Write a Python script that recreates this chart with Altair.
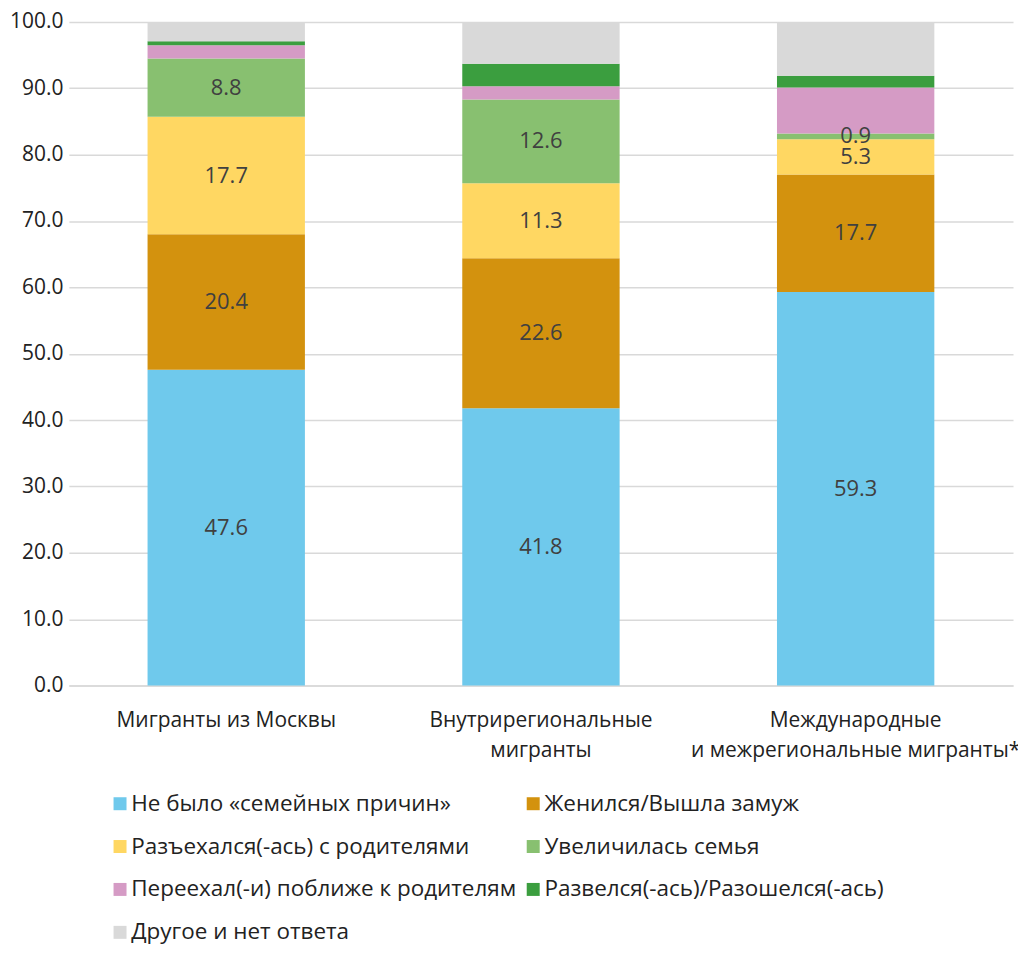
import altair as alt
import pandas as pd

groups = ["Мигранты из Москвы", "Внутрирегиональные\nмигранты", "Международные\nи межрегиональные мигранты*"]
series = [
    "Не было «семейных причин»",
    "Женился/Вышла замуж",
    "Разъехался(-ась) с родителями",
    "Увеличилась семья",
    "Переехал(-и) поближе к родителям",
    "Развелся(-ась)/Разошелся(-ась)",
    "Другое и нет ответа",
]
colors = ["#6FC9EC", "#D3920E", "#FFD762", "#88C070", "#D59BC5", "#3B9E3F", "#D9D9D9"]

v_no_reason = [47.6, 41.8, 59.3]
v_married = [20.4, 22.6, 17.7]
v_moved_out = [17.7, 11.3, 5.3]
v_family_grew = [8.8, 12.6, 0.9]
v_closer_parents = [2.0, 2.0, 6.9]
v_divorced = [0.6, 3.4, 1.8]
v_other = [2.9, 6.3, 8.1]
labelled = [True, True, True, True, False, False, False]

all_vals = [v_no_reason, v_married, v_moved_out, v_family_grew, v_closer_parents, v_divorced, v_other]

rows = []
for si, (s, vals) in enumerate(zip(series, all_vals)):
    for gi, g in enumerate(groups):
        rows.append({"group": g, "series": s, "order": si, "value": vals[gi], "show": labelled[si]})
df = pd.DataFrame(rows)

FONT = "Open Sans"

base = alt.Chart(df).transform_stack(
    stack="value", as_=["y0", "y1"], groupby=["group"], sort=[alt.SortField("order", order="ascending")]
).transform_calculate(mid="(datum.y0 + datum.y1) / 2")

x_enc = alt.X(
    "group:N",
    sort=groups,
    title=None,
    scale=alt.Scale(paddingInner=0.5, paddingOuter=0.25),
    axis=alt.Axis(
        labelAngle=0,
        labelExpr="split(datum.label, '\\n')",
        labelFontSize=21,
        labelFont=FONT,
        labelColor="#222222",
        labelLineHeight=30,
        labelPadding=24,
        ticks=False,
        domainColor="#D9D9D9",
        domainWidth=1.5,
        labelLimit=400,
    ),
)

bars = base.mark_bar().encode(
    x=x_enc,
    y=alt.Y(
        "y0:Q",
        title=None,
        scale=alt.Scale(domain=[0, 100], nice=False),
        axis=alt.Axis(
            values=list(range(0, 101, 10)),
            format=".1f",
            labelFontSize=21,
            labelFont=FONT,
            labelColor="#222222",
            labelPadding=6,
            ticks=False,
            domain=False,
            gridColor="#D9D9D9",
            gridWidth=1.5,
        ),
    ),
    y2="y1:Q",
    color=alt.Color(
        "series:N",
        sort=series,
        scale=alt.Scale(domain=series, range=colors),
        legend=alt.Legend(
            title=None,
            orient="none",
            legendX=40,
            legendY=772,
            columns=2,
            direction="horizontal",
            columnPadding=5,
            rowPadding=20,
            symbolType="square",
            symbolSize=169,
            symbolStrokeWidth=0,
            labelFontSize=22.5,
            labelFont=FONT,
            labelColor="#222222",
            labelLimit=500,
            labelOffset=0,
        ),
    ),
)

text = base.transform_filter("datum.show").mark_text(
    fontSize=22, font=FONT, color="#404040", baseline="middle"
).encode(
    x=alt.X("group:N", sort=groups),
    y=alt.Y("mid:Q"),
    text=alt.Text("value:Q", format=".1f"),
)

chart = (bars + text).properties(
    width=946,
    height=665,
    autosize=alt.AutoSizeParams(type="none"),
    padding={"left": 61, "top": 13, "right": 5, "bottom": 258},
).configure_view(stroke=None)

chart.save("out.html", embed_options={"renderer": "svg", "actions": False})
